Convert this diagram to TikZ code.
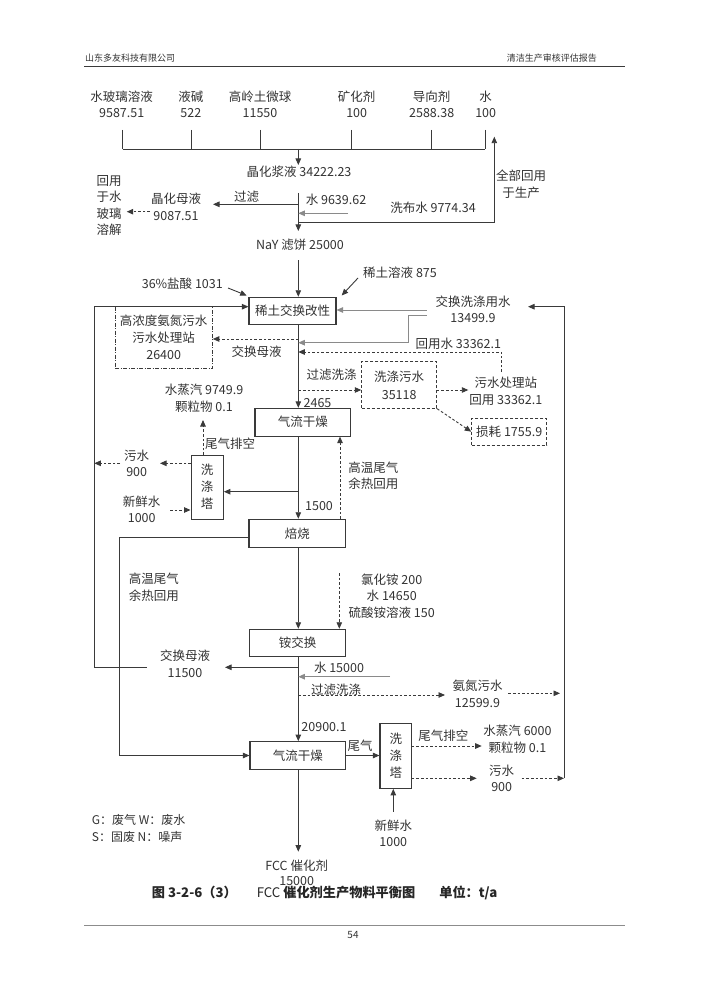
\documentclass[tikz,border=0pt]{standalone}
\usepackage{fontspec}
\setmainfont{Noto Sans CJK SC}
\usetikzlibrary{arrows.meta}
\definecolor{ink}{HTML}{333333}
\definecolor{lnc}{HTML}{3A3A3A}
\definecolor{gry}{HTML}{8A8A8A}
\begin{document}
\begin{tikzpicture}[x=1pt,y=-1pt,
 txt/.style={inner sep=0pt,align=center,text=ink,font=\fontsize{12.5}{16.6}\selectfont},
 ln/.style={draw=lnc,line width=0.9pt},
 gl/.style={draw=gry,line width=0.9pt},
 arr/.style={-{Triangle[length=6.5pt,width=5.5pt]}},
 dsh/.style={dash pattern=on 2.6pt off 2pt},
 pbox/.style={txt,draw=lnc,line width=1.1pt},
 dbox/.style={txt,draw=lnc,line width=0.9pt,dash pattern=on 3pt off 2pt},
 ddbox/.style={txt,draw=lnc,line width=0.9pt,dash pattern=on 4pt off 1.5pt on 1pt off 1.5pt},
 tower/.style={pbox,font=\fontsize{12.5}{17}\selectfont},
 hd/.style={inner sep=0pt,text=ink,font=\fontsize{9}{11}\selectfont}
]
\useasboundingbox (0,0) rectangle (707,1000);
\fill[white] (0,0) rectangle (707,1000);

% header and footer
\node[hd,anchor=west] (hl) at (85,58) {山东多友科技有限公司};
\node[hd,anchor=east] (hr) at (597,58) {清洁生产审核评估报告};
\coordinate (h1) at (84,67); \coordinate (h2) at (625,67);
\draw[draw=lnc,line width=1pt] (h1) -- (h2);
\coordinate (f1) at (84,925); \coordinate (f2) at (625,925);
\draw[draw=black!45,line width=1pt] (f1) -- (f2);
\node[hd,font=\fontsize{10}{12}\selectfont] (pg) at (353,935) {54};

% raw materials
\node[txt] (m1) at (121.7,104.3) {水玻璃溶液\\9587.51};
\node[txt] (m2) at (190.8,104.3) {液碱\\522};
\node[txt] (m3) at (260,104.3) {高岭土微球\\11550};
\node[txt] (m4) at (356.7,104.3) {矿化剂\\100};
\node[txt] (m5) at (431.7,104.3) {导向剂\\2588.38};
\node[txt] (m6) at (485.7,104.3) {水\\100};
\foreach \x in {122.7,191,260,351.7,431.7,485} \draw[ln] (\x,130) -- (\x,149);
\coordinate (busL) at (122.7,149); \coordinate (busR) at (485,149);
\draw[ln] (busL) -- (busR);
\coordinate (bus) at (298.3,149); \coordinate (bust) at (298.3,165);
\draw[ln,arr] (bus) -- (bust);
\node[txt] (jh) at (299,172) {晶化浆液 34222.23};

% filtration
\coordinate (v2a) at (298.3,193); \coordinate (v2b) at (298.3,231);
\draw[ln,arr] (v2a) -- (v2b);
\node[txt] (nay) at (300,245) {NaY 滤饼 25000};
\coordinate (fa) at (298.3,204.3); \coordinate (fb) at (213,204.3);
\draw[ln,arr] (fa) -- (fb);
\node[txt] (gl1) at (246.7,197) {过滤};
\node[txt] (jm) at (176,207) {晶化母液\\9087.51};
\coordinate (fc) at (150,211.7); \coordinate (fd) at (126.7,211.7);
\draw[ln,dsh,arr] (fc) -- (fd);
\node[txt,font=\fontsize{12.5}{16.4}\selectfont] (hy) at (109,205.4) {回用\\于水\\玻璃\\溶解};
\node[txt] (sw) at (336,200) {水 9639.62};
\coordinate (xa) at (348,213.3); \coordinate (xb) at (298.3,213.3);
\draw[gl,arr] (xa) -- (xb);
\node[txt] (xbs) at (433,208) {洗布水 9774.34};
\coordinate (ra) at (298.3,222.3); \coordinate (rb) at (494.3,222.3); \coordinate (rc) at (494.3,136.7);
\draw[ln,arr] (ra) -- (rb) -- (rc);
\node[txt] (qb) at (521,184.5) {全部回用\\于生产};

% process boxes
\node[pbox,minimum width=87pt,minimum height=27pt] (b1) at (292.5,310.8) {稀土交换改性};
\node[pbox,minimum width=95.7pt,minimum height=27.7pt] (b2) at (302.8,422.2) {气流干燥};
\node[pbox,minimum width=96.7pt,minimum height=28pt] (b3) at (297.3,533.3) {焙烧};
\node[pbox,minimum width=96.4pt,minimum height=27.4pt] (b4) at (297.5,643) {铵交换};
\node[pbox,minimum width=95.7pt,minimum height=27.6pt] (b5) at (297.8,755.5) {气流干燥};
\node[tower,minimum width=32.3pt,minimum height=64.3pt] (w1) at (207.2,487.2) {洗\\涤\\塔};
\node[tower,minimum width=31.7pt,minimum height=65pt] (w2) at (395.8,755.8) {洗\\涤\\塔};
\node[ddbox,minimum width=97.3pt,minimum height=61.6pt,font=\fontsize{12.5}{17.2}\selectfont] (hn) at (163.7,337.5) {高浓度氨氮污水\\污水处理站\\26400};
\node[dbox,minimum width=75pt,minimum height=46.6pt,font=\fontsize{12.5}{18.3}\selectfont] (xd) at (399.2,385) {洗涤污水\\35118};
\node[dbox,minimum width=75pt,minimum height=26.7pt] (sh) at (509.2,431.7) {损耗 1755.9};

% main vertical
\coordinate (k1) at (298.3,260);
\draw[ln,arr] (k1) -- (k1 |- b1.north);
\draw[ln,arr] (k1 |- b1.south) -- (k1 |- b2.north);
\draw[ln,arr] (k1 |- b2.south) -- (k1 |- b3.north);
\draw[ln,arr] (k1 |- b3.south) -- (k1 |- b4.north);
\draw[ln,arr] (k1 |- b4.south) -- (k1 |- b5.north);
\coordinate (fcct) at (298.3,851.7);
\draw[ln,arr] (k1 |- b5.south) -- (fcct);
\node[txt,font=\fontsize{12.5}{15.6}\selectfont] (fcc) at (296.7,873) {FCC 催化剂\\15000};

% rare earth exchange inputs
\node[txt] (ys) at (182.3,283.3) {36\%盐酸 1031};
\coordinate (ys1) at (228,288); \coordinate (ys2) at (246.7,295.5);
\draw[ln,arr] (ys1) -- (ys2);
\node[txt] (xt) at (400,273) {稀土溶液 875};
\coordinate (xt1) at (358,278); \coordinate (xt2) at (341.7,295.5);
\draw[ln,arr] (xt1) -- (xt2);

% left return line (exchange mother liquor)
\coordinate (L1) at (94.3,306.7); \coordinate (L2) at (94.3,667.7); \coordinate (L3) at (146.7,667.7);
\draw[ln,arr] (L3) -- (L2) -- (L1) -- (L1 -| b1.west);

% exchange wash water (grey)
\node[txt] (jx) at (473,309.2) {交换洗涤用水\\13499.9};
\coordinate (g1) at (426.7,310);
\draw[gl,arr] (g1) -- (g1 -| b1.east);
\coordinate (g2) at (426.7,315.5); \coordinate (g3) at (408.3,315.5); \coordinate (g4) at (408.3,342.7); \coordinate (g5) at (298.3,342.7);
\draw[gl,arr] (g2) -- (g3) -- (g4) -- (g5);

% right return line
\coordinate (R1) at (564,778.3); \coordinate (R2) at (564,306.7); \coordinate (R3) at (528,306.7);
\draw[ln,arr] (R1) -- (R2) -- (R3);

% mother liquor to high-conc. treatment
\coordinate (d1) at (298.3,339);
\draw[ln,dsh,arr] (d1) -- (d1 -| hn.east);
\node[txt] (jm2) at (256.7,351.7) {交换母液};
\node[txt] (hys) at (458.3,343.3) {回用水 33362.1};
\node[txt] (ws) at (505.8,391) {污水处理站\\回用 33362.1};
\coordinate (w0) at (501.7,372); \coordinate (w01) at (501.7,352); \coordinate (w02) at (298.3,352);
\draw[ln,dsh,arr] (w0) -- (w01) -- (w02);

% filtration washing
\node[txt] (glx) at (331.7,375) {过滤洗涤};
\coordinate (d2) at (298.3,390);
\draw[ln,dsh,arr] (d2) -- (d2 -| xd.west);
\coordinate (d3) at (436.7,390); \coordinate (d3b) at (468.3,390);
\draw[ln,dsh,arr] (d3) -- (d3b);
\draw[ln,dsh,arr] (xd.south east) -- (sh.west);
\node[txt] (n2465) at (317.5,402.7) {2465};

% first washer
\node[txt] (vp1) at (204,398.3) {水蒸汽 9749.9\\颗粒物 0.1};
\coordinate (e1) at (203,455); \coordinate (e2) at (203,420);
\draw[ln,dsh,arr] (e1) -- (e2);
\node[txt] (wq1) at (230,444) {尾气排空};
\coordinate (s1) at (298.3,491.7);
\draw[ln,arr] (s1) -- (s1 -| w1.east);
\node[txt] (ws1) at (136.7,463.3) {污水\\900};
\coordinate (d4) at (191,463.3); \coordinate (d4b) at (160,463.3);
\draw[ln,dsh,arr] (d4) -- (d4b);
\coordinate (d5) at (120,463.3);
\draw[ln,dsh,arr] (d5) -- (d5 -| L1);
\node[txt] (xx1) at (141.7,509.5) {新鲜水\\1000};
\coordinate (d6) at (170,510);
\draw[ln,dsh,arr] (d6) -- (d6 -| w1.west);
\node[txt] (n1500) at (319,506) {1500};

% hot tail gas recovery
\coordinate (u1) at (340,480);
\draw[ln,dsh,arr] (u1 |- b3.north) -- (u1 |- b2.south);
\node[txt] (gw1) at (373.3,475.8) {高温尾气\\余热回用};
\coordinate (H0) at (119.3,537.7);
\draw[ln,arr] (H0 -| b3.west) -- (H0) |- (b5.west);
\node[txt] (gw2) at (153.8,587.2) {高温尾气\\余热回用};

% ammonium exchange
\coordinate (d8) at (339.3,573);
\draw[ln,dsh,arr] (d8) -- (d8 |- b4.north);
\node[txt,font=\fontsize{12.5}{16.7}\selectfont] (nh) at (391.7,596) {氯化铵 200\\水 14650\\硫酸铵溶液 150};
\node[txt] (jm3) at (185,663.8) {交换母液\\11500};
\coordinate (a1) at (298.3,667.3); \coordinate (a2) at (225,667.3);
\draw[ln,arr] (a1) -- (a2);
\node[txt] (s15) at (339,667.3) {水 15000};
\coordinate (a3) at (390,676.7); \coordinate (a4) at (298.3,676.7);
\draw[gl,arr] (a3) -- (a4);
\node[txt] (glx2) at (336,690) {过滤洗涤};
\coordinate (a5) at (298.3,695); \coordinate (a6) at (445,695);
\draw[ln,dsh,arr] (a5) -- (a6);
\node[txt] (ad) at (477.5,693.8) {氨氮污水\\12599.9};
\coordinate (a7) at (508.3,693.3); \coordinate (a8) at (560,693.3);
\draw[ln,dsh,arr] (a7) -- (a8);
\node[txt] (n209) at (324,726.7) {20900.1};

% second washer
\node[txt] (wq) at (360,746) {尾气};
\draw[ln,arr] (b5.east) -- (b5.east -| w2.west);
\node[txt] (wq2) at (443.3,736) {尾气排空};
\coordinate (c1) at (411.7,746); \coordinate (c2) at (481.7,746);
\draw[ln,dsh,arr] (c1) -- (c2);
\node[txt] (vp2) at (517.5,739) {水蒸汽 6000\\颗粒物 0.1};
\coordinate (c3) at (411.7,778.3); \coordinate (c4) at (476.7,778.3);
\draw[ln,dsh,arr] (c3) -- (c4);
\node[txt] (ws2) at (501.7,778.3) {污水\\900};
\coordinate (c5) at (521.7,778.3);
\draw[ln,dsh,arr] (c5) -- (R1);
\node[txt] (xx2) at (393.3,833.3) {新鲜水\\1000};
\coordinate (c6) at (393.3,811.7);
\draw[ln,arr] (c6) -- (c6 |- w2.south);

% legend and caption
\node[txt,anchor=west,align=left,font=\fontsize{12}{16.7}\selectfont] (lg) at (91.7,828.3) {G：废气 W：废水\\S：固废 N：噪声};
\node[txt,anchor=west,text=black!85,font=\fontsize{13.2}{15}\selectfont] (cap) at (151.7,893.3) {\bfseries 图 3-2-6（3）\hspace{20pt}\mdseries FCC \bfseries 催化剂生产物料平衡图\hspace{24pt}单位：t/a};
\end{tikzpicture}
\end{document}
